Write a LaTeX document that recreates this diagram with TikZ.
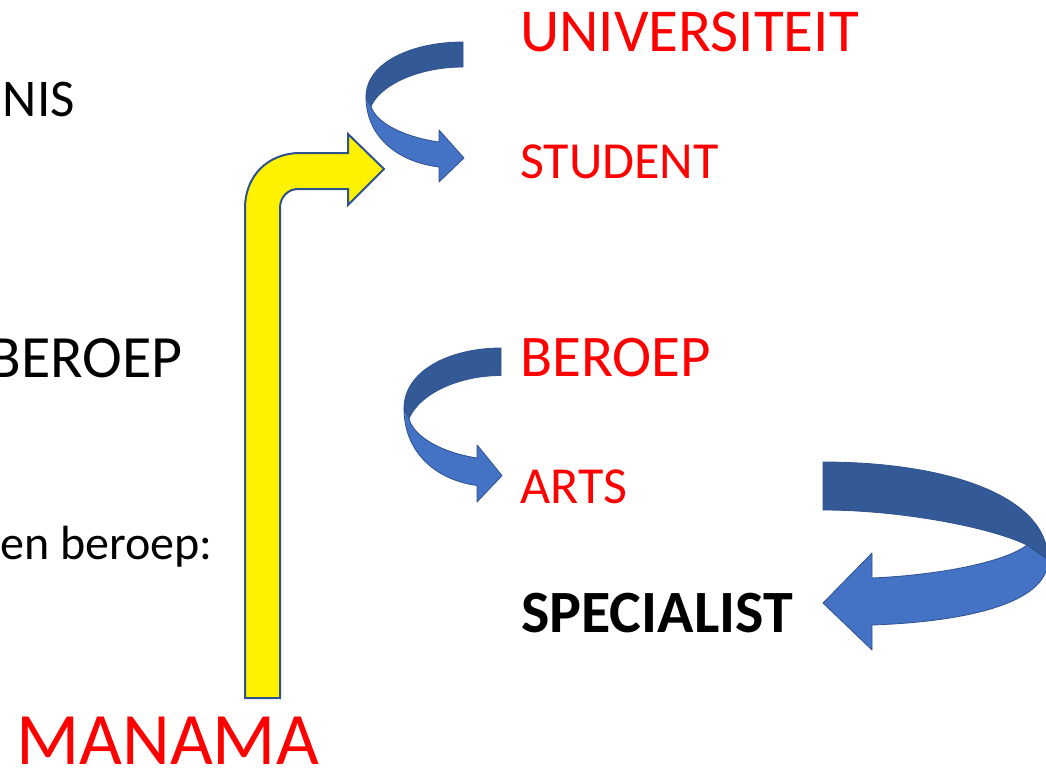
\documentclass[tikz,border=0pt]{standalone}
\usepackage{fontspec}
\setmainfont{Carlito}
\usetikzlibrary{positioning}

\definecolor{pptred}{HTML}{FF0000}
\definecolor{ribbonback}{HTML}{335A97}
\definecolor{ribbonfront}{HTML}{4472C4}
\definecolor{ribbonline}{HTML}{2F528F}

\begin{document}
\begin{tikzpicture}[
  x=1pt, y=-1pt,
  word/.style={anchor=base west, inner sep=0pt, font=\fontsize{#1}{#1}\selectfont},
  cut/.style={anchor=base east, inner sep=0pt, font=\fontsize{#1}{#1}\selectfont},
  back/.style={fill=ribbonback, draw=ribbonline, line width=0.8pt, line join=round},
  front/.style={fill=ribbonfront, draw=ribbonline, line width=0.8pt, line join=round},
  curl/.pic={
    \path[back] (0,0) .. controls (-50,0) and (-97,20) .. (-97,55)
      -- (-92,64) .. controls (-80,40) and (-40,25) .. (0,25) -- cycle;
    \path[front] (-97,55) .. controls (-97,95) and (-65,120) .. (-24,125)
      -- (-24,140) -- (1,116) -- (-24,88) -- (-24,100)
      .. controls (-60,95) and (-88,80) .. (-92,64) -- cycle;
  }
]
\useasboundingbox (0,0) rectangle (1046,768);
\clip (0,0) rectangle (1046,768);

% ---------- Left column (cut off) ----------
\node[cut=53] (nis) at (75,116) {NIS};
\node[cut=60] (beroepleft) at (183,377) {BEROEP};
\node[cut=48] (beroepdef) at (213,559) {en beroep:};
\node[word=74, text=pptred] (manama) at (16,764) {MANAMA};

% ---------- Right column ----------
\node[word=61, text=pptred] (univ) at (520,52) {UNIVERSITEIT};
\node[word=52, text=pptred] (student) at (520,178) {STUDENT};
\node[word=59, text=pptred] (beroep) at (520,376) {BEROEP};
\node[word=52, text=pptred] (arts) at (520,503) {ARTS};
\node[word=60, font=\fontsize{60}{60}\selectfont\bfseries] (specialist) at (521,632) {SPECIALIST};

% ---------- Yellow bent arrow ----------
\path[fill=yellow, draw=ribbonline, line width=2pt, line join=miter]
  (245,698) -- (245,208) .. controls (245,176) and (268,153) .. (300,153)
  -- (348,153) -- (348,134) -- (384,169) -- (348,205) -- (348,189)
  -- (298,189) .. controls (288,189) and (280,197) .. (280,208)
  -- (280,698) -- cycle;

% ---------- Curved ribbon arrows ----------
\pic at (463,42) {curl};
\pic[yscale=1.1] at (501,348) {curl};

\path[back] (823,462) .. controls (945,462) and (1048,495) .. (1048,560)
  -- (1027,545) .. controls (990,527) and (900,510) .. (823,510) -- cycle;
\path[front] (1048,560) .. controls (1048,605) and (960,622) .. (872,625)
  -- (872,650) -- (823,603) -- (872,553) -- (872,578)
  .. controls (940,575) and (1005,562) .. (1027,545) -- cycle;

\end{tikzpicture}
\end{document}
